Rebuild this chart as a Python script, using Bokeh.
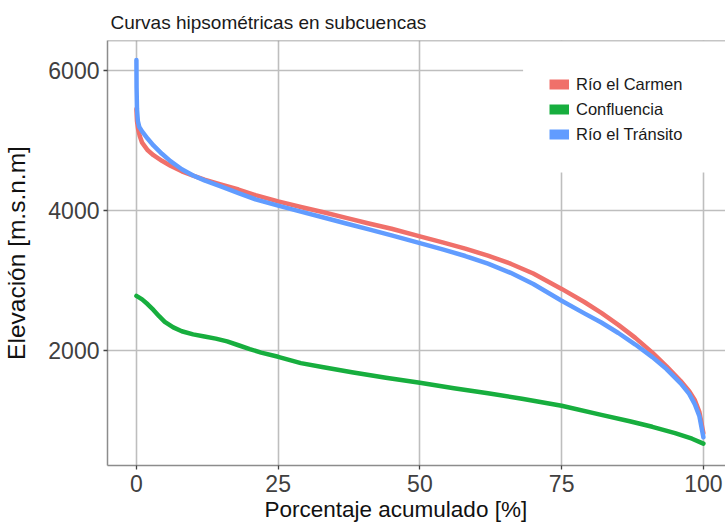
from bokeh.plotting import figure
from bokeh.models import (FixedTicker, Span, BoxAnnotation, Legend,
                          LegendItem, Range1d, Title)
from bokeh.embed import file_html
from bokeh.resources import INLINE

# Hypsometric curves: cumulative area percentage vs elevation (m a.s.l.)
carmen_pct = [0, 0.1, 0.3, 0.6, 1, 2, 3, 4.5, 6, 8, 10, 12, 15, 18, 21, 25, 29,
              33, 37, 41, 45, 50, 54, 58, 62, 66, 70, 75, 79, 82, 85, 88, 91,
              93.5, 96, 97.5, 98.5, 99.3, 100]
carmen_elev = [5450, 5280, 5160, 5060, 4970, 4860, 4790, 4710, 4640, 4560, 4500,
               4440, 4370, 4300, 4220, 4130, 4050, 3975, 3895, 3815, 3740, 3630,
               3545, 3455, 3355, 3240, 3100, 2880, 2693, 2537, 2366, 2180, 1970,
               1775, 1565, 1420, 1290, 1120, 820]

confluencia_pct = [0, 1, 2, 3, 4, 5, 6.5, 8, 10, 12, 14, 16, 18, 20, 22, 25, 29,
                   33, 38, 44, 50, 56, 62, 68, 75, 82, 87, 91, 95, 98, 100]
confluencia_elev = [2780, 2730, 2660, 2580, 2490, 2410, 2330, 2275, 2230, 2200,
                    2170, 2130, 2075, 2020, 1970, 1910, 1820, 1760, 1690, 1610,
                    1540, 1460, 1390, 1310, 1210, 1080, 990, 910, 820, 740, 670]

transito_pct = [0, 0.03, 0.1, 0.25, 0.5, 1, 2, 3, 4.5, 6, 8, 10, 12, 15, 18,
                21, 25, 29, 33, 37, 41, 45, 50, 54, 58, 62, 66, 70, 75, 79, 82,
                85, 88, 91, 93.5, 96, 97.5, 98.5, 99.3, 100]
transito_elev = [6150, 5750, 5450, 5280, 5195, 5130, 5025, 4930, 4810, 4705,
                 4590, 4500, 4430, 4340, 4250, 4160, 4070, 3985, 3900, 3815,
                 3730, 3645, 3533, 3445, 3350, 3240, 3110, 2950, 2710, 2530,
                 2400, 2250, 2085, 1905, 1735, 1530, 1380, 1230, 1060, 760]

series_names = ["Río el Carmen", "Confluencia", "Río el Tránsito"]
series_colors = ["#F0706A", "#17AE3E", "#619CFF"]

x_ticks = [0, 25, 50, 75, 100]
y_ticks = [2000, 4000, 6000]

FONT = "Liberation Sans"

p = figure(width=725, height=525, output_backend="svg", toolbar_location=None,
           x_range=Range1d(-5.1, 103.9), y_range=Range1d(357, 6429),
           min_border_left=105, min_border_right=0,
           min_border_top=40, min_border_bottom=60)

p.background_fill_color = "white"
p.border_fill_color = "white"
p.outline_line_color = None

# title
p.title.text = "Curvas hipsométricas en subcuencas"
p.title.align = "left"
p.title.offset = 3
p.title.text_font = FONT
p.title.text_font_size = "19px"
p.title.text_font_style = "normal"
p.title.text_color = "#1a1a1a"
p.title.standoff = 15

# grid
p.xgrid.ticker = FixedTicker(ticks=x_ticks)
p.ygrid.ticker = FixedTicker(ticks=y_ticks)
for g in (p.xgrid, p.ygrid):
    g.grid_line_color = "#BEBEBE"
    g.grid_line_width = 1.6

# axes
p.xaxis.ticker = FixedTicker(ticks=x_ticks)
p.yaxis.ticker = FixedTicker(ticks=y_ticks)
for ax in (p.xaxis, p.yaxis):
    ax.axis_line_color = "#8C8C8C"
    ax.axis_line_width = 1.5
    ax.major_tick_out = 4
    ax.major_tick_in = 0
    ax.major_tick_line_color = "#444444"
    ax.major_tick_line_width = 1.3
    ax.minor_tick_line_color = None
    ax.major_label_text_font = FONT
    ax.major_label_text_font_size = "23px"
    ax.major_label_text_color = "#404040"
p.yaxis.major_label_standoff = 4
p.xaxis.major_label_standoff = 5

p.yaxis.axis_label = "Elevación [m.s.n.m]"
p.yaxis.axis_label_text_font = FONT
p.yaxis.axis_label_text_font_size = "24.5px"
p.yaxis.axis_label_text_font_style = "normal"
p.yaxis.axis_label_text_color = "#111111"
p.yaxis.axis_label_standoff = 15

# x axis title, placed as a title below the axis
p.add_layout(Title(text="Porcentaje acumulado [%]", align="left", offset=157,
                   standoff=0, text_font=FONT, text_font_size="22.5px",
                   text_font_style="normal", text_color="#111111"), "below")

# curves (Tránsito drawn last, on top)
curves = [(carmen_pct, carmen_elev), (confluencia_pct, confluencia_elev),
          (transito_pct, transito_elev)]
for (xs, ys), color in zip(curves, series_colors):
    p.line(xs, ys, line_color=color, line_width=4.5,
           line_join="round", line_cap="round")

# white legend background covering the grid in the upper right
p.add_layout(BoxAnnotation(left=68.2, bottom=4543, fill_color="white",
                           fill_alpha=1.0, line_color=None))

# top panel border
p.add_layout(Span(location=6429, dimension="width", line_color="#8C8C8C",
                  line_width=1.5))

# legend with filled swatches (legend-only renderers, nothing drawn in the plot)
nan = float("nan")
items = []
for name, color in zip(series_names, series_colors):
    r = p.line(x=[nan], y=[nan], line_color=color, line_width=10,
               line_cap="butt")
    items.append(LegendItem(label=name, renderers=[r]))

legend = Legend(items=items, location=(442, 321), orientation="vertical",
                glyph_width=20, glyph_height=20, label_height=20,
                label_standoff=7, spacing=5, padding=0, margin=0,
                border_line_color=None, background_fill_alpha=0,
                label_text_font=FONT, label_text_font_size="16.5px",
                label_text_color="#1a1a1a")
p.add_layout(legend)

open("out.html", "w").write(file_html(p, INLINE))
